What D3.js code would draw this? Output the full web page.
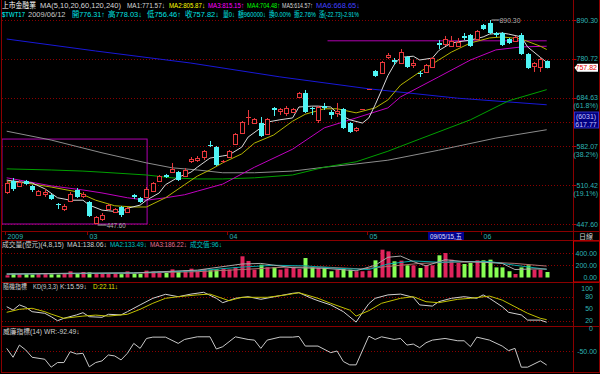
<!DOCTYPE html>
<html><head><meta charset="utf-8">
<script src="https://cdn.jsdelivr.net/npm/d3@7"></script>
<style>
body{margin:0;background:#000;}
svg{display:block;}
text{font-family:"Liberation Sans","Noto Sans CJK TC",sans-serif;font-size:7px;}
</style></head><body>
<svg id="c" width="600" height="374"></svg>
<script>
// ---- data ----
const openP = [498.6,517.4,508.8,517.4,508.8,493.6,495.3,493.6,478.8,470.8,
483.7,502.0,491.9,482.0,449.1,455.2,470.8,466.1,474.0,466.1,
493.6,488.6,490.3,500.3,517.4,528.0,533.4,533.4,526.2,553.5,
555.4,561.0,584.2,580.2,551.7,561.0,586.1,608.3,639.8,629.1,
629.1,606.3,661.8,655.1,650.7,652.9,686.8,696.1,661.8,635.5,
666.3,652.9,650.7,659.6,629.1,614.5,657.3,703.2,749.7,744.6,
785.9,778.0,770.2,785.9,765.0,744.6,747.2,759.9,823.9,821.1,
815.6,815.6,843.6,846.4,835.1,875.4,881.3,852.1,852.1,835.1,
829.5,846.4,793.9,762.4,759.9,776.31];
const highP = [517.4,522.7,519.2,519.2,510.5,502.0,503.7,495.3,480.4,478.8,
498.6,505.4,498.6,483.7,459.8,464.5,478.8,472.4,475.6,474.0,
495.3,490.3,507.1,515.7,528.0,529.8,549.8,535.2,540.6,561.0,
562.9,574.4,592.1,582.2,555.4,574.4,608.3,633.4,657.3,639.8,
642.0,639.8,664.0,661.8,666.3,661.8,698.5,703.2,664.0,666.3,
673.1,657.3,673.1,661.8,631.2,620.7,659.6,705.6,752.2,775.4,
796.6,783.3,807.4,788.6,778.0,749.7,767.6,785.9,832.3,843.6,
843.6,837.9,852.1,849.3,860.8,878.4,890.3,855.0,855.0,837.9,
843.6,852.1,796.6,772.8,783.3,778.03];
const lowP = [495.3,500.3,507.1,510.5,498.6,491.9,490.3,485.3,470.8,467.6,
482.0,488.6,488.6,458.3,447.6,452.2,469.2,464.5,458.3,464.5,
487.0,480.4,488.6,498.6,515.7,522.7,531.6,517.4,524.5,549.8,
551.7,555.4,580.2,544.3,549.8,559.1,584.2,606.3,624.9,627.0,
600.2,604.2,644.2,646.3,644.2,650.7,684.5,650.7,646.3,629.1,
657.3,637.7,642.0,616.5,608.3,610.4,657.3,703.2,734.7,742.1,
780.6,765.0,767.6,757.3,757.3,734.7,744.6,757.3,807.4,815.6,
812.9,812.9,832.3,812.9,832.3,860.8,849.3,840.7,815.6,821.1,
826.7,791.3,754.8,747.2,747.2,756.46];
const closeP = [514.0,503.7,515.7,512.2,502.0,500.3,498.6,487.0,477.2,475.6,
495.3,490.3,495.3,459.8,458.3,461.4,477.2,470.8,461.4,472.4,
490.3,482.0,503.7,514.0,526.2,524.5,538.8,519.2,537.0,557.3,
559.1,572.5,582.2,546.1,553.5,572.5,606.3,631.2,642.0,637.7,
602.2,637.7,657.3,659.6,661.8,659.6,696.1,652.9,659.6,664.0,
661.8,646.3,655.1,618.6,610.4,618.6,659.6,705.6,737.1,772.8,
791.3,772.8,799.3,759.9,770.2,742.1,765.0,783.3,818.4,835.1,
829.5,826.7,837.9,815.6,857.9,863.7,852.1,846.4,818.4,823.9,
840.7,793.9,757.3,770.2,780.6,757.82];
const volume = [36,73,57,57,49,57,62,54,49,62,
101,73,90,84,73,60,75,65,55,100,
65,60,112,100,100,75,133,100,120,144,
110,140,120,135,150,130,170,346,270,128,
209,167,167,128,150,170,140,318,165,155,
155,102,128,155,128,102,102,112,280,454,
427,264,275,199,199,155,199,199,362,400,
291,237,220,237,280,280,291,165,165,102,
57,165,199,128,128,90];
// moving averages: [candle index, value]
const ma1 = [[0,519],[2,516],[4,514],[6,504],[8,489],[10,485],[12,485],[13,477],[15,469],[16,468],[18,466],[19,472],[21,477],[22,485],[24,497],[25,511],[27,524],[29,533],[30,542],[32,559],[34,563],[35,565],[37,580],[38,600],[40,619],[41,631],[43,636],[45,640],[46,664],[48,666],[49,666],[51,664],[52,651],[54,636],[56,629],[57,640],[58,669],[59,702],[60,738],[61,766],[62,785],[64,788],[65,778],[67,783],[68,803],[70,824],[71,827],[73,832],[75,841],[76,849],[78,852],[79,849],[81,841],[82,813],[84,785],[85,772]];
const ma2 = [[0,516],[3,514],[7,507],[11,499],[14,485],[17,476],[20,474],[22,474],[25,489],[28,511],[30,526],[32,537],[34,550],[37,567],[39,588],[42,604],[45,633],[47,648],[50,660],[52,660],[55,651],[58,662],[60,680],[62,715],[65,747],[68,778],[70,799],[73,824],[76,838],[78,841],[81,835],[84,815],[85,806]];
const ma3 = [[0,523],[3,517],[7,509],[12,502],[15,497],[19,489],[22,485],[25,489],[28,494],[30,500],[34,512],[39,542],[45,576],[50,619],[55,640],[60,662],[62,687],[68,735],[73,778],[77,805],[81,813],[85,815]];
const ma4 = [[0,539],[7,537],[12,535],[15,533],[22,528],[26,523],[30,521],[34,521],[39,523],[45,528],[50,542],[55,552],[60,572],[65,596],[73,636],[79,678],[85,704]];
const ma5 = [[0,612],[7,594],[15,569],[22,550],[26,541],[30,537],[34,532],[39,532],[45,535],[50,542],[55,548],[60,555],[68,574],[77,598],[85,615]];
const ma6 = [[0,835],[14,802],[29,770],[43,735],[57,706],[71,684],[85,669]];
const volMa1 = [[0,55],[10,70],[20,75],[30,120],[37,220],[40,230],[45,160],[50,150],[55,110],[58,200],[60,330],[62,350],[64,260],[66,190],[69,290],[72,260],[75,250],[78,230],[80,130],[83,140],[85,138]];
const volMa2 = [[0,55],[10,65],[20,75],[30,110],[37,170],[42,200],[47,190],[52,150],[57,130],[60,220],[64,270],[68,250],[72,260],[76,260],[80,200],[85,133]];
const volMa3 = [[0,60],[10,62],[20,70],[30,95],[37,130],[44,170],[50,170],[56,140],[60,180],[65,230],[70,250],[75,255],[80,230],[85,186]];
const kLine = [[0,54.5],[1,46],[2,59],[3,53],[4,42],[6,38],[7,29.5],[8,19.5],[9,25.5],[11,34],[12,39.5],[13,29.5],[15,28],[16,35.5],[18,34],[19,42],[21,59],[23,75.5],[25,85.5],[27,79.5],[29,86],[31,90.5],[33,75.5],[34,64.5],[36,75.5],[38,79.5],[40,73],[43,82],[45,88],[46,89.5],[48,75.5],[49,69.5],[51,59],[53,42],[55,16],[56,40],[57,62],[58,75.5],[60,84],[62,86],[64,78],[65,59],[67,56],[68,67],[70,75.5],[72,79.5],[74,75.5],[75,84],[76,75.5],[78,54.5],[79,40.5],[81,34],[82,21],[84,21],[85,15.59]];
const dLine = [[0,40.5],[2,48],[4,50.5],[6,42],[7,36],[9,25.5],[12,31],[14,33.5],[16,31],[19,35.5],[21,48],[23,63],[25,75.5],[27,79.5],[30,84],[32,86],[35,69.5],[37,78],[41,78],[44,84],[46,89.5],[49,75.5],[51,63],[54,46],[55,31],[57,44.5],[59,63],[62,75.5],[64,79.5],[66,67],[68,64.5],[71,73],[73,75.5],[76,81],[78,71],[80,54.5],[82,38],[84,25.5],[85,22.11]];
const wrLine = [[0,-42],[1,-69],[2,-32],[3,-47],[4,-69],[6,-75],[7,-99],[8,-85],[9,-85],[10,-52],[11,-59],[12,-57],[13,-98],[14,-85],[15,-80],[16,-62],[17,-65],[18,-77],[19,-57],[20,-27],[21,-42],[22,-12],[23,-8],[25,-8],[27,-27],[28,-15],[30,-7],[32,-7],[33,-44],[34,-37],[36,-7],[38,-15],[39,-17],[40,-42],[41,-17],[43,-8],[45,-8],[46,-6],[47,-35],[49,-35],[51,-55],[52,-50],[53,-82],[54,-92],[55,-92],[57,-5],[58,-15],[59,-7],[61,-15],[62,-12],[63,-32],[64,-29],[65,-40],[66,-25],[67,-17],[69,-12],[71,-19],[72,-19],[73,-37],[74,-8],[76,-17],[78,-35],[79,-49],[80,-42],[81,-99],[82,-99],[84,-80],[85,-92.49]];
const priceTicks = [890.30, 780.72, 684.63, 582.07, 510.42, 447.60];
const pctLabels = [[684.63,"(61.8%)"],[582.07,"(38.2%)"],[510.42,"(19.1%)"]];
const monthLabels = [[0,"2009"],[13,"03"],[35,"04"],[57,"05"],[75,"06"]];
const volTicks = [400, 200, 0];
const kdTicks = [100, 80, 50, 20, 0];

// ---- drawing ----
const svg = d3.select("#c");
const FRAME = "#8a0000", GRID = "#8a0000";
const UP = "#e8383c", DN = "#4ff4f4";
const AX = 573.5;
const n = closeP.length;
const x = d3.scaleLinear().domain([0, n-1]).range([6.7, 546.7]);
const y = d3.scaleLog().domain([447.6, 890.3]).range([224, 20]);
const yv = d3.scaleLinear().domain([0, 400]).range([277.5, 253]);
const yk = d3.scaleLinear().domain([0, 100]).range([328.5, 288.5]);
const yw = d3.scaleLinear().domain([-100, 0]).range([367.5, 334.5]);

svg.append("rect").attr("width",600).attr("height",374).attr("fill","#000");

// text helper: optional target width -> horizontal scale so the glyphs fit
function txt(xp, yp, s, fill, anchor, size, w) {
  const t = svg.append("text").attr("fill", fill)
    .attr("text-anchor", anchor || "start").style("font-size", (size||7)+"px").text(s);
  let sx = 1;
  if (w) { const w0 = t.node().getComputedTextLength(); if (w0 > w) sx = w / w0; }
  t.attr("transform", `translate(${xp},${yp}) scale(${sx},1)`);
  return t;
}
function hline(y0, x0, x1, col, dash) {
  svg.append("line").attr("x1",x0).attr("x2",x1).attr("y1",y0).attr("y2",y0)
    .attr("stroke",col).attr("stroke-width",1).attr("stroke-dasharray",dash||null);
}
function vline(x0, y0, y1, col) {
  svg.append("line").attr("x1",x0).attr("x2",x0).attr("y1",y0).attr("y2",y1).attr("stroke",col);
}

const defs = svg.append("defs");
defs.append("clipPath").attr("id","cm").append("rect").attr("x",2).attr("y",0).attr("width",571).attr("height",231);
defs.append("clipPath").attr("id","ck").append("rect").attr("x",2).attr("y",283).attr("width",571).attr("height",43);
defs.append("clipPath").attr("id","cw").append("rect").attr("x",2).attr("y",327).attr("width",571).attr("height",45);

// gridlines
const gridLevels = priceTicks.concat([Math.sqrt(447.6*890.3)]);
gridLevels.forEach(p => hline(Math.round(y(p))+0.5, 2, AX, GRID, "1,2"));
volTicks.slice(0,2).forEach(v => hline(Math.round(yv(v))+0.5, 2, AX, GRID, "1,2"));
[80,50,20].forEach(v => hline(Math.round(yk(v))+0.5, 2, AX, GRID, "1,2"));
hline(Math.round(yw(-50))+0.5, 2, AX, GRID, "1,2");

// frame
[231.5, 240.5, 282.5, 326.5, 372.5].forEach(yy => hline(yy, 1, 600, FRAME));
vline(1.5, 0, 373, FRAME);
vline(AX, 0, 373, FRAME);
vline(599.5, 0, 373, FRAME);
svg.append("rect").attr("x",AX).attr("y",241).attr("width",26).attr("height",41).attr("fill","none").attr("stroke","#d00000");

const main = svg.append("g").attr("clip-path","url(#cm)");
main.append("rect").attr("x", x(-0.75)).attr("y", y(596)).attr("width", x(22.1)-x(-0.75)).attr("height", y(447.6)-y(596))
  .attr("fill","none").attr("stroke","#b000b0");
main.append("line").attr("x1", x(50.5)).attr("x2", x(n-1)).attr("y1", y(830)).attr("y2", y(830)).attr("stroke","#b000b0");

const maLine = (ys) => d3.line().x(d => x(d[0])).y(d => ys(d[1]));
[[ma6,"#1818d8"],[ma5,"#8c8c8c"],[ma4,"#00a000"],[ma3,"#c000c0"],[ma2,"#b4b400"],[ma1,"#d8d8d8"]].forEach(([d,c]) =>
  main.append("path").attr("d", maLine(y)(d)).attr("fill","none").attr("stroke",c).attr("stroke-width",1));

// candles
d3.range(n).forEach(i => {
  const cx = Math.round(x(i)) + 0.5;
  const o = openP[i], c = closeP[i], h = highP[i], l = lowP[i];
  const up = c >= o;
  const col = up ? UP : DN;
  const yt = y(Math.max(o,c)), yb = y(Math.min(o,c));
  main.append("line").attr("x1",cx).attr("x2",cx).attr("y1",y(h)).attr("y2",yt).attr("stroke",col);
  main.append("line").attr("x1",cx).attr("x2",cx).attr("y1",yb).attr("y2",y(l)).attr("stroke",col);
  if (yb - yt < 1.5) {
    main.append("line").attr("x1",cx-2.5).attr("x2",cx+2.5).attr("y1",Math.round(yt)+0.5).attr("y2",Math.round(yt)+0.5).attr("stroke",col);
  } else if (up) {
    main.append("rect").attr("x",cx-2).attr("y",Math.round(yt)+0.5).attr("width",4).attr("height",Math.round(yb-yt))
      .attr("fill","#000").attr("stroke",col);
  } else {
    main.append("rect").attr("x",cx-2.5).attr("y",Math.round(yt)).attr("width",5).attr("height",Math.max(1,Math.round(yb-yt)))
      .attr("fill",col);
  }
});
const iHi = d3.maxIndex(highP), iLo = d3.minIndex(lowP);
main.append("line").attr("x1",x(iHi)+2).attr("x2",x(iHi)+10).attr("y1",y(highP[iHi])).attr("y2",y(highP[iHi])).attr("stroke","#b0b0b0");
txt(x(iHi)+10, y(highP[iHi])+2.5, highP[iHi].toFixed(2), "#b0b0b0", "start", 7, 21);
main.append("line").attr("x1",x(iLo)+2).attr("x2",x(iLo)+11).attr("y1",y(lowP[iLo])+1).attr("y2",y(lowP[iLo])+1).attr("stroke","#b0b0b0");
txt(x(iLo)+11, y(lowP[iLo])+4, lowP[iLo].toFixed(2), "#b0b0b0", "start", 7, 19);

// price axis labels
const AXC = "#2fb4b4";
priceTicks.forEach(p => {
  const yy = y(p);
  hline(Math.round(yy)+0.5, AX, AX+3, "#c00000");
  txt(598, yy+2.5, p.toFixed(2), AXC, "end", 7);
});
pctLabels.forEach(([p,s]) => txt(598, y(p)+10.5, s, AXC, "end", 7));
svg.append("rect").attr("x",AX+1).attr("y",112).attr("width",24).attr("height",16).attr("fill","#000080").attr("stroke","#3030c0");
txt(586, 119, "(6031)", "#c0c0ff", "middle", 7);
txt(586, 127, "617.77", "#c0c0ff", "middle", 7);
const lp = closeP[n-1];
svg.append("path").attr("d", `M${AX+1},${y(lp)} L${AX+4},${y(lp)-4} L598,${y(lp)-4} L598,${y(lp)+4} L${AX+4},${y(lp)+4} Z`).attr("fill","#ffffff");
txt(597, y(lp)+2.5, lp.toFixed(2), "#e00000", "end", 7);

// date row
monthLabels.forEach(([i,s]) => {
  const xx = Math.round(x(i)) - 1.5;
  vline(xx, 231.5, 235, FRAME);
  txt(xx+2, 238.5, s, AXC, "start", 7);
});
svg.append("rect").attr("x", x(66)+2).attr("y",232).attr("width",36).attr("height",8).attr("fill","#000090");
txt(x(66)+4, 238.7, "09/05/15,五", "#e0e0ff", "start", 7, 32);
txt(586, 238.7, "日線", "#d0d0d0", "middle", 7);

// header
const h1 = [["上市金融業",2,34,"#ffffff"],["MA(5,10,20,60,120,240)",40,83,"#d8d8d8"],["MA1:771.57↓",127,38,"#d8d8d8"],["MA2:805.87↓",169,36,"#ffff00"],
  ["MA3:815.15↑",208,36,"#ff00ff"],["MA4:704.48↑",247,33,"#00ff00"],["MA5:614.57↑",282,31,"#d8d8d8"],["MA6:668.65↓",316,44,"#4040ff"]];
h1.forEach(([s,xx,w,c]) => txt(xx, 8, s, c, "start", 7.5, w));
const h2 = [["$TWT17",2,23,"#00ffff"],["2009/06/12",28,38,"#c8c8c8"],["開776.31↑",72,33,"#00e0e0"],["高778.03↓",108,34,"#00e0e0"],["低756.46↑",147,34,"#00e0e0"],
  ["收757.82↓",185,34,"#00e0e0"],["量0↓",223,12,"#00e0e0"],["額960000↓",238,28,"#00e0e0"],["換0.00%",269,22,"#00e0e0"],["振2.76%",294,22,"#00e0e0"],["漲(-22.73)-2.91%",319,40,"#00e0e0"]];
h2.forEach(([s,xx,w,c]) => txt(xx, 17, s, c, "start", 7.5, w));

// volume panel
const vg = svg.append("g");
d3.range(n).forEach(i => {
  const up = closeP[i] >= openP[i];
  vg.append("rect").attr("x", Math.round(x(i))-1.5).attr("y", yv(volume[i])).attr("width",4).attr("height", yv(0)-yv(volume[i]))
    .attr("fill", up ? "#e0245c" : "#88ff55");
});
[[volMa3,"#b07070"],[volMa2,"#00a8a8"],[volMa1,"#a8a8a8"]].forEach(([d,c]) =>
  vg.append("path").attr("d", maLine(yv)(d)).attr("fill","none").attr("stroke",c));
volTicks.forEach(v => txt(597, yv(v)+2.5, v.toFixed(2), AXC, "end", 7));
const vt = [["成交量(億元)(4,8,15)",2,62,"#d0d0d0"],["MA1:138.06↓",67,40,"#d0d0d0"],["MA2:133.49↓",110,37,"#00c0c0"],["MA3:186.22↓",150,37,"#e07090"],["成交值:96↓",190,32,"#00c0c0"]];
vt.forEach(([s,xx,w,c]) => txt(xx, 247, s, c, "start", 7, w));

// KD panel
const kg = svg.append("g").attr("clip-path","url(#ck)");
kg.append("path").attr("d", maLine(yk)(kLine)).attr("fill","none").attr("stroke","#d0d0d0");
kg.append("path").attr("d", maLine(yk)(dLine)).attr("fill","none").attr("stroke","#c0c000");
kdTicks.forEach(v => txt(593, yk(v)+2.5, String(v), AXC, "end", 7));
txt(3, 289, "隨機指標", "#d0d0d0", "start", 7, 24);
txt(33, 289, "KD(9,3,3)", "#d0d0d0", "start", 7, 25);
txt(60, 289, "K:15.59↓", "#d0d0d0", "start", 7, 27);
txt(93, 289, "D:22.11↓", "#e0e000", "start", 7, 25);

// WR panel
const wg = svg.append("g").attr("clip-path","url(#cw)");
wg.append("path").attr("d", maLine(yw)(wrLine)).attr("fill","none").attr("stroke","#c8c8c8");
txt(597, yw(-50)+2.5, "-50.00", AXC, "end", 7);
txt(3, 334, "威廉指標(14) WR:-92.49↓", "#d0d0d0", "start", 7, 77);
</script>
</body></html>
